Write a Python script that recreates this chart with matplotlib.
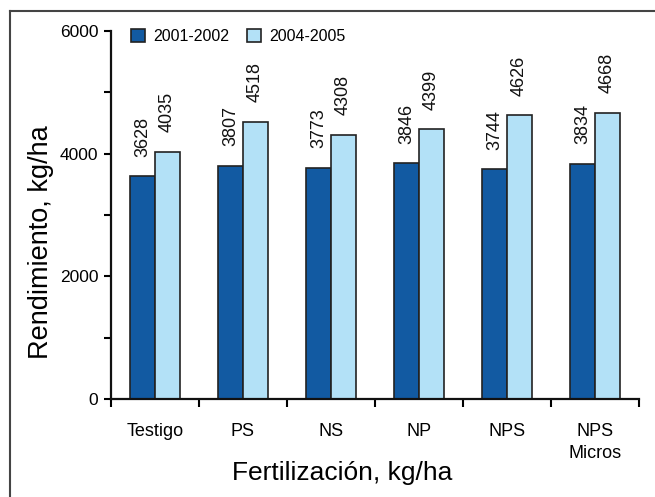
import matplotlib
matplotlib.use("Agg")
import matplotlib.pyplot as plt
from matplotlib.lines import Line2D
import numpy as np

plt.rcParams['font.family'] = ['Liberation Sans', 'DejaVu Sans']

categories = ["Testigo", "PS", "NS", "NP", "NPS", "NPS\nMicros"]
series_names = ["2001-2002", "2004-2005"]
values_2001 = [3628, 3807, 3773, 3846, 3744, 3834]
values_2004 = [4035, 4518, 4308, 4399, 4626, 4668]
y_ticks = [0, 2000, 4000, 6000]

W, H = 655, 497
fig = plt.figure(figsize=(W / 100, H / 100), dpi=100)
ax = fig.add_axes([111 / W, 1 - 399 / H, (639 - 111) / W, (399 - 31) / H])

x = np.arange(len(categories))
bw = 0.285
dark = "#125AA2"
light = "#B3E1F7"
edge = "#222222"
b1 = ax.bar(x - bw / 2, values_2001, bw, color=dark, edgecolor=edge, linewidth=1.2, label=series_names[0])
b2 = ax.bar(x + bw / 2, values_2004, bw, color=light, edgecolor=edge, linewidth=1.2, label=series_names[1])

for bars, vals in ((b1, values_2001), (b2, values_2004)):
    for r, v in zip(bars, vals):
        ax.annotate(str(v), (r.get_x() + r.get_width() / 2, r.get_height()),
                    xytext=(0, 14), textcoords="offset points", rotation=90,
                    ha="center", va="bottom", fontsize=13, color="#111111")

ax.set_xlim(-0.5, len(categories) - 0.5)
ax.set_ylim(0, 6000)
ax.set_yticks(y_ticks)
ax.set_yticks([1000, 3000, 5000], minor=True)
ax.tick_params(axis="y", which="both", direction="out", length=5, width=1.5, labelsize=12.5, pad=4)
ax.set_xticks(np.arange(-0.5, len(categories), 1.0))
ax.set_xticklabels([])
ax.set_xticks(x, minor=True)
ax.set_xticklabels(categories, minor=True, fontsize=13, va="top", linespacing=1.45)
ax.tick_params(axis="x", which="major", direction="out", length=6, width=1.5)
ax.tick_params(axis="x", which="minor", length=0, pad=17)

for s in ("top", "right"):
    ax.spines[s].set_visible(False)
for s in ("left", "bottom"):
    ax.spines[s].set_linewidth(1.6)
    ax.spines[s].set_color("#111111")

fig.text(41 / W, 1 - 242 / H, "Rendimiento, kg/ha", rotation=90, ha="center", va="center", fontsize=19.5)
fig.text(342 / W, 1 - 473 / H, "Fertilización, kg/ha", ha="center", va="center", fontsize=19)

fig.legend(handles=[b1, b2], labels=series_names, loc="upper left",
           bbox_to_anchor=(131 / W, 1 - 29 / H), ncol=2, frameon=False,
           fontsize=11.5, handlelength=0.9, handleheight=0.9, handletextpad=0.5,
           columnspacing=1.1, borderpad=0, borderaxespad=0)

fig.add_artist(Line2D([10 / W, 10 / W], [0, 1 - 11 / H], transform=fig.transFigure, color="#444444", linewidth=1.5))
fig.add_artist(Line2D([10 / W, 1], [1 - 11 / H, 1 - 11 / H], transform=fig.transFigure, color="#444444", linewidth=1.5))

fig.savefig("out.png", dpi=100)
